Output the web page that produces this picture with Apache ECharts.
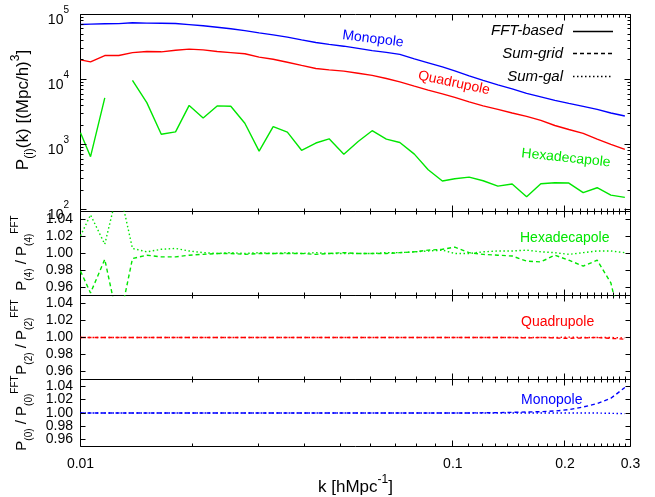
<!DOCTYPE html>
<html>
<head>
<meta charset="utf-8">
<script src="https://cdn.jsdelivr.net/npm/echarts@6/dist/echarts.min.js"></script>
<style>
html, body { margin: 0; padding: 0; background: #fff; }
#main { width: 655px; height: 497px; }
</style>
</head>
<body>
<div id="main"></div>
<script>
// k bins (h/Mpc)
var kVals = [0.0100, 0.01064, 0.01162, 0.01267, 0.01379, 0.01507, 0.01648, 0.01800, 0.01958, 0.02135,
    0.02328, 0.02533, 0.02763, 0.03018, 0.03292, 0.03594, 0.03924, 0.04286, 0.04653, 0.05096,
    0.05568, 0.06071, 0.06628, 0.07205, 0.07882, 0.08586, 0.09374, 0.1012, 0.1106, 0.1206,
    0.1321, 0.1443, 0.1578, 0.1723, 0.1879, 0.2049, 0.2239, 0.2441, 0.2657, 0.2897];

// FFT-based multipoles
var monoFFT = [70200, 71150, 71900, 72400, 74500, 73600, 73200, 72700, 69900, 67000,
    63600, 60300, 56500, 52300, 48700, 44900, 40800, 37100, 34800, 32600,
    30200, 27900, 26200, 24400, 20800, 18100, 15700, 13600, 11400, 9720,
    8290, 7190, 6130, 5420, 4790, 4300, 3870, 3480, 3070, 2760];
var quadFFT = [20100, 18700, 23400, 23400, 26000, 27000, 26700, 28300, 29400, 28600,
    27000, 26000, 24900, 22100, 20500, 18500, 16500, 14800, 14100, 13500,
    12500, 11600, 10400, 9220, 7920, 6900, 6030, 5330, 4540, 3940,
    3480, 3070, 2720, 2360, 1970, 1710, 1490, 1220, 1010, 844];
var hexaFFT = [1530, 654, 5230, '-', 9720, 4430, 1445, 1570, 4010, 2575,
    3940, 3900, 2130, 794, 1890, 1560, 820, 1060, 1230, 712,
    1120, 1640, 1215, 1080, 715, 412, 276, 300, 317, 279,
    231, 249, 158, 251, 260, 257, 183, 218, 168, 155];

// ratios to FFT
var hexaGrid = [0.979, 0.953, 0.993, 0.915, 0.994, 0.998, 0.996, 0.996, 0.998, 0.999,
    1.000, 1.000, 0.999, 1.000, 1.000, 1.000, 1.000, 0.999, 1.000, 1.001,
    1.000, 1.000, 1.000, 1.001, 1.002, 1.004, 1.005, 1.0076, 1.001, 0.999,
    0.998, 0.997, 0.991, 0.990, 0.998, 0.992, 0.985, 0.992, 0.965, 0.895];
var hexaGal = [1.021, 1.046, 1.011, 1.080, 1.006, 1.002, 1.005, 1.006, 1.003, 1.001,
    1.000, 1.001, 1.000, 1.001, 1.000, 1.001, 1.000, 1.001, 1.000, 1.000,
    1.000, 1.000, 1.001, 1.001, 1.002, 1.003, 1.004, 1.000, 1.000, 1.002,
    1.003, 1.003, 1.004, 1.002, 1.001, 0.999, 1.001, 1.003, 1.003, 1.001];
var quadGrid = [1.000, 1.000, 1.000, 1.000, 1.000, 1.000, 1.000, 1.000, 1.000, 1.000,
    1.000, 1.000, 1.000, 1.000, 1.000, 1.000, 1.000, 1.000, 1.000, 1.000,
    1.000, 1.000, 1.000, 1.000, 1.000, 1.000, 1.000, 1.000, 1.000, 1.000,
    1.000, 1.000, 0.9995, 1.000, 0.9995, 0.999, 0.9995, 1.000, 0.999, 0.998];
var quadGal = [1.000, 1.000, 1.000, 1.000, 1.000, 1.000, 1.000, 1.000, 1.000, 1.000,
    1.000, 1.000, 1.000, 1.000, 1.000, 1.000, 1.000, 1.000, 1.000, 1.000,
    1.000, 1.000, 1.000, 1.000, 1.000, 1.000, 1.000, 1.000, 1.000, 1.000,
    1.000, 1.000, 1.000, 1.000, 1.000, 1.0005, 1.000, 1.000, 1.000, 0.9995];
var monoGrid = [1.000, 1.000, 1.000, 1.000, 1.000, 1.000, 1.000, 1.000, 1.000, 1.000,
    1.000, 1.000, 1.000, 1.000, 1.000, 1.000, 1.000, 1.000, 1.000, 1.000,
    1.000, 1.000, 1.000, 1.000, 1.000, 1.000, 1.000, 1.000, 1.0001, 1.0003,
    1.0005, 1.001, 1.0015, 1.002, 1.003, 1.005, 1.009, 1.014, 1.022, 1.038];
var monoGal = [1.000, 1.000, 1.000, 1.000, 1.000, 1.000, 1.000, 1.000, 1.000, 1.000,
    1.000, 1.000, 1.000, 1.000, 1.000, 1.000, 1.000, 1.000, 1.000, 1.000,
    1.000, 1.000, 1.000, 1.000, 1.000, 1.000, 1.000, 1.000, 1.000, 1.000,
    1.000, 1.000, 1.000, 1.000, 1.000, 1.000, 1.000, 1.000, 0.9995, 0.999];

// ticks
var xMajor = [0.01, 0.1, 0.2, 0.3];
var xMajorLabels = ['0.01', '0.1', '0.2', '0.3'];
var xMinor = [0.02, 0.03, 0.04, 0.05, 0.06, 0.07, 0.08, 0.09,
    0.11, 0.12, 0.13, 0.14, 0.15, 0.16, 0.17, 0.18, 0.19,
    0.21, 0.22, 0.23, 0.24, 0.25, 0.26, 0.27, 0.28, 0.29];
var pMajor = [100, 1000, 10000, 100000];
var pMajorExp = ['2', '3', '4', '5'];
var pMinor = [200, 300, 400, 500, 600, 700, 800, 900,
    2000, 3000, 4000, 5000, 6000, 7000, 8000, 9000,
    20000, 30000, 40000, 50000, 60000, 70000, 80000, 90000];
var rTicks = [0.96, 0.98, 1.00, 1.02, 1.04];
var rLabels = ['0.96', '0.98', '1.00', '1.02', '1.04'];

var FONT = '"Liberation Sans", Arial, Helvetica, sans-serif';
var BLUE = '#0000ff', RED = '#ff0000', GREEN = '#00e600';
var L = 80.5, R = 630.5;
var panels = [
    { top: 14.5, bottom: 211.5 },
    { top: 211.5, bottom: 295.5 },
    { top: 295.5, bottom: 379.5 },
    { top: 379.5, bottom: 446.5 }
];
var DASH = [4, 3], DOT = [1.5, 2.5];

function pairs(ys) {
    return kVals.map(function (k, i) { return [k, ys[i]]; });
}
function curve(name, ys, idx, color, type) {
    return {
        name: name, type: 'line', xAxisIndex: idx, yAxisIndex: idx,
        data: pairs(ys), symbol: 'none', silent: true, clip: true,
        lineStyle: { color: color, width: 1.4, type: type }
    };
}

var chart = echarts.init(document.getElementById('main'));

var option = {
    animation: false,
    backgroundColor: '#fff',
    grid: panels.map(function (p) {
        return { left: L, width: R - L, top: p.top, height: p.bottom - p.top,
            show: true, borderColor: '#000', borderWidth: 1, containLabel: false };
    }),
    xAxis: panels.map(function (p, i) {
        return { type: 'log', logBase: 10, min: 0.01, max: 0.3, gridIndex: i,
            axisLine: { show: false }, axisTick: { show: false },
            axisLabel: { show: false }, splitLine: { show: false } };
    }),
    yAxis: panels.map(function (p, i) {
        var ax = { gridIndex: i, axisLine: { show: false }, axisTick: { show: false },
            axisLabel: { show: false }, splitLine: { show: false } };
        if (i === 0) {
            ax.type = 'log'; ax.logBase = 10; ax.min = 94; ax.max = 100000;
        } else {
            ax.type = 'value'; ax.min = 0.95; ax.max = 1.05;
        }
        return ax;
    }),
    series: [
        curve('Monopole', monoFFT, 0, BLUE, 'solid'),
        curve('Quadrupole', quadFFT, 0, RED, 'solid'),
        curve('Hexadecapole', hexaFFT, 0, GREEN, 'solid'),
        curve('Hexa Sum-grid', hexaGrid, 1, GREEN, DASH),
        curve('Hexa Sum-gal', hexaGal, 1, GREEN, DOT),
        curve('Quad Sum-grid', quadGrid, 2, RED, DASH),
        curve('Quad Sum-gal', quadGal, 2, RED, DOT),
        curve('Mono Sum-grid', monoGrid, 3, BLUE, DASH),
        curve('Mono Sum-gal', monoGal, 3, BLUE, DOT)
    ]
};
chart.setOption(option);

// ticks, labels, titles and key drawn as graphics, placed via the axes
var g = [];
function seg(x1, y1, x2, y2, color, dash, w) {
    g.push({ type: 'line', silent: true, z: 10,
        shape: { x1: x1, y1: y1, x2: x2, y2: y2 },
        style: { stroke: color || '#000', lineWidth: w || 1, lineDash: dash || null } });
}
function txt(o) {
    g.push({ type: 'text', silent: true, z: 10, x: o.x, y: o.y, rotation: o.rot || 0,
        style: { text: o.text, fill: o.color || '#000', font: o.font || ('14px ' + FONT),
            align: o.align || 'center', verticalAlign: o.va || 'middle', rich: o.rich } });
}
function snap(v) { return Math.round(v - 0.5) + 0.5; }

panels.forEach(function (p, i) {
    xMajor.forEach(function (v) {
        var x = snap(chart.convertToPixel({ xAxisIndex: i }, v));
        seg(x, p.bottom, x, p.bottom - 6);
        seg(x, p.top, x, p.top + 6);
    });
    xMinor.forEach(function (v) {
        var x = snap(chart.convertToPixel({ xAxisIndex: i }, v));
        seg(x, p.bottom, x, p.bottom - 3);
        seg(x, p.top, x, p.top + 3);
    });
    if (i === 0) {
        pMajor.forEach(function (v, j) {
            var y = snap(chart.convertToPixel({ yAxisIndex: 0 }, v));
            seg(L, y, L + 6, y);
            seg(R, y, R - 6, y);
            txt({ x: 69, y: y + 2, align: 'right', text: '{b|10}{s|' + pMajorExp[j] + '}',
                rich: { b: { fontSize: 14, fontFamily: FONT, lineHeight: 22, verticalAlign: 'bottom' },
                        s: { fontSize: 10, fontFamily: FONT, lineHeight: 10, verticalAlign: 'top' } } });
        });
        pMinor.forEach(function (v) {
            var y = snap(chart.convertToPixel({ yAxisIndex: 0 }, v));
            seg(L, y, L + 3, y);
            seg(R, y, R - 3, y);
        });
    } else {
        rTicks.forEach(function (v, j) {
            var y = snap(chart.convertToPixel({ yAxisIndex: i }, v));
            seg(L, y, L + 5, y);
            seg(R, y, R - 5, y);
            txt({ x: 73, y: y, align: 'right', text: rLabels[j] });
        });
    }
});

xMajor.forEach(function (v, j) {
    var x = chart.convertToPixel({ xAxisIndex: 3 }, v);
    txt({ x: x, y: 464, text: xMajorLabels[j] });
});

var richT = {
    m: { fontSize: 17, fontFamily: FONT, lineHeight: 26, verticalAlign: 'middle' },
    sub: { fontSize: 12, fontFamily: FONT, lineHeight: 12, verticalAlign: 'bottom' },
    sup: { fontSize: 12, fontFamily: FONT, lineHeight: 12, verticalAlign: 'top' }
};
var richR = {
    m: { fontSize: 15, fontFamily: FONT, lineHeight: 24, verticalAlign: 'middle' },
    sub: { fontSize: 10, fontFamily: FONT, lineHeight: 10, verticalAlign: 'bottom' },
    sup: { fontSize: 10, fontFamily: FONT, lineHeight: 10, verticalAlign: 'top' }
};
txt({ x: 355.5, y: 487, text: '{m|k [hMpc}{sup|-1}{m|]}', rich: richT });
txt({ x: 23, y: 110, rot: Math.PI / 2, text: '{m|P}{sub|(i)}{m|(k) [(Mpc/h)}{sup|3}{m|]}', rich: richT });
txt({ x: 22, y: 253, rot: Math.PI / 2, text: '{m|P}{sub|(4)}{m| / P}{sub|(4)}{sup|FFT}', rich: richR });
txt({ x: 22, y: 337, rot: Math.PI / 2, text: '{m|P}{sub|(2)}{m| / P}{sub|(2)}{sup|FFT}', rich: richR });
txt({ x: 22, y: 413, rot: Math.PI / 2, text: '{m|P}{sub|(0)}{m| / P}{sub|(0)}{sup|FFT}', rich: richR });

// key
var ITAL = 'italic 15px ' + FONT;
txt({ x: 563, y: 31, align: 'right', text: 'FFT-based', font: ITAL });
txt({ x: 563, y: 54, align: 'right', text: 'Sum-grid', font: ITAL });
txt({ x: 563, y: 77, align: 'right', text: 'Sum-gal', font: ITAL });
seg(573, 31.5, 613, 31.5, '#000', null, 1.5);
seg(573, 53.5, 613, 53.5, '#000', DASH, 1.3);
seg(573, 76.5, 611, 76.5, '#000', DOT, 1.3);

// curve annotations
txt({ x: 373, y: 39, rot: -7 * Math.PI / 180, text: 'Monopole', color: BLUE });
txt({ x: 454, y: 83, rot: -12 * Math.PI / 180, text: 'Quadrupole', color: RED });
txt({ x: 566, y: 158, rot: -6 * Math.PI / 180, text: 'Hexadecapole', color: GREEN });
txt({ x: 520, y: 238, align: 'left', text: 'Hexadecapole', color: GREEN });
txt({ x: 521, y: 322, align: 'left', text: 'Quadrupole', color: RED });
txt({ x: 521, y: 400, align: 'left', text: 'Monopole', color: BLUE });

chart.setOption({ graphic: g });
</script>
</body>
</html>
